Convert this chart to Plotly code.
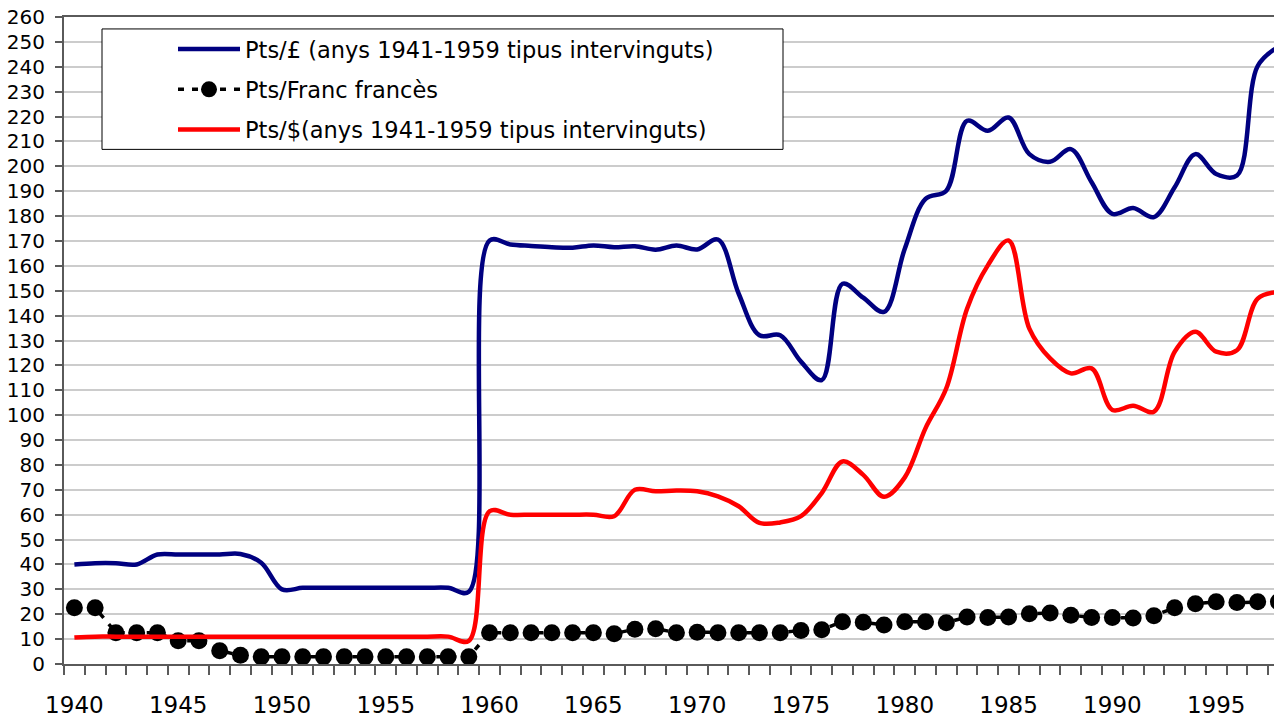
import plotly.graph_objects as go

years = list(range(1940, 1999))

pts_lliura = [40.0, 40.5, 40.5, 40.0, 44.0, 44.0, 44.0, 44.0, 44.2, 40.7,
              30.0, 30.6, 30.6, 30.6, 30.6, 30.6, 30.6, 30.6, 30.6, 29.0,
              170.2, 168.6, 168.0, 167.5, 167.3, 168.2, 167.5, 167.9, 166.5, 168.2,
              166.6, 170.6, 148.8, 132.1, 132.1, 121.5, 114.1, 152.8, 147.2, 141.5,
              166.9, 186.9, 190.2, 218.3, 214.3, 219.6, 204.9, 201.8, 206.9, 193.6,
              180.9, 183.2, 179.6, 191.6, 204.9, 196.9, 196.3, 240.3, 248.0]

pts_franc = [22.6, 22.6, 12.6, 12.6, 12.6, 9.3, 9.3, 5.3, 3.5, 2.9,
             2.9, 2.9, 2.9, 2.9, 2.9, 2.9, 2.9, 2.9, 2.9, 2.9,
             12.6, 12.6, 12.6, 12.6, 12.6, 12.6, 12.2, 14.0, 14.2, 12.6,
             12.8, 12.6, 12.6, 12.6, 12.6, 13.5, 13.8, 17.0, 16.8, 15.7,
             17.0, 17.0, 16.6, 18.9, 18.7, 18.9, 20.2, 20.5, 19.6, 18.7,
             18.7, 18.5, 19.4, 22.6, 24.2, 25.0, 24.7, 25.0, 25.0]

pts_dolar = [10.6, 11.0, 11.0, 11.0, 11.0, 11.0, 11.0, 11.0, 11.0, 11.0,
             11.0, 11.0, 11.0, 11.0, 11.0, 11.0, 11.0, 11.0, 11.0, 9.3,
             61.4, 60.0, 60.0, 60.0, 60.0, 60.0, 59.4, 70.0, 69.4, 69.7,
             69.4, 67.4, 63.4, 56.7, 56.9, 59.4, 68.7, 81.4, 76.0, 67.2,
             75.0, 94.8, 110.8, 142.8, 160.2, 170.2, 134.8, 122.8, 116.8, 118.8,
             102.1, 103.8, 101.4, 125.5, 133.5, 125.5, 126.1, 146.8, 149.5]

names = ["Pts/£ (anys 1941-1959 tipus intervinguts)",
         "Pts/Franc francès",
         "Pts/$(anys 1941-1959 tipus intervinguts)"]

x_tick_vals = [1940, 1945, 1950, 1955, 1960, 1965, 1970, 1975, 1980, 1985, 1990, 1995]
y_tick_vals = list(range(0, 261, 10))

FONT = "DejaVu Sans"

fig = go.Figure()
fig.add_trace(go.Scatter(
    x=years, y=pts_lliura, name=names[0], mode="lines",
    line=dict(color="#000080", width=4.5, shape="spline", smoothing=1.0),
    legendgroup="a"))
fig.add_trace(go.Scatter(
    x=years, y=pts_franc, name=names[1], mode="lines+markers",
    line=dict(color="#000000", width=3.5, dash="6px,8px"),
    marker=dict(color="#000000", size=17, symbol="circle"),
    legendgroup="b"))
fig.add_trace(go.Scatter(
    x=years, y=pts_dolar, name=names[2], mode="lines",
    line=dict(color="#ff0000", width=4.5, shape="spline", smoothing=1.0),
    legendgroup="c"))

W, H = 1274, 718
L, R, T, B = 64, 0, 17, 51
plot_w = W - L - R
plot_h = H - T - B
px_per_year = 20.76
x_end = 1939.5 + plot_w / px_per_year


def px_x(p):
    return (p - L) / plot_w


def px_y(p):
    return 1 - (p - T) / plot_h


# legend frame (box around the native legend entries)
box_l, box_r, box_t, box_b = 102, 783, 29, 150
fig.add_shape(type="rect", xref="paper", yref="paper",
              x0=px_x(box_l), x1=px_x(box_r), y0=px_y(box_b), y1=px_y(box_t),
              line=dict(color="black", width=1), fillcolor="white", layer="above")

fig.update_layout(
    width=W, height=H,
    margin=dict(l=L, r=R, t=T, b=B, pad=0),
    paper_bgcolor="white", plot_bgcolor="white",
    font=dict(family=FONT, color="black"),
    showlegend=True,
    legend=dict(
        x=px_x(box_l), y=px_y(28),
        xanchor="left", yanchor="top",
        bgcolor="rgba(255,255,255,0)", borderwidth=0,
        font=dict(family=FONT, size=22.5, color="black"),
        itemwidth=62, tracegroupgap=8, traceorder="grouped",
        indentation=71,
    ),
    xaxis=dict(
        range=[1939.5, x_end], tickmode="array", tickvals=x_tick_vals,
        ticktext=[str(v) for v in x_tick_vals],
        ticks="", showgrid=False, zeroline=False,
        showline=True, linecolor="#5a5a5a", linewidth=2, mirror=True,
        tickfont=dict(family=FONT, size=23, color="black"),
        minor=dict(ticks="outside", tick0=1939.5, dtick=1, ticklen=9,
                   tickcolor="#5a5a5a", tickwidth=1.5, showgrid=False),
        ticklabelstandoff=19,
    ),
    yaxis=dict(
        range=[0, 260], tickmode="array", tickvals=y_tick_vals,
        ticktext=[str(v) for v in y_tick_vals],
        ticks="outside", ticklen=7, tickcolor="#5a5a5a", tickwidth=1.5,
        showgrid=True, gridcolor="#cccccc", gridwidth=1.5, zeroline=False,
        showline=True, linecolor="#5a5a5a", linewidth=2,
        tickfont=dict(family=FONT, size=20, color="black"),
        ticklabelstandoff=6,
    ),
)

fig.write_html("out.html", config={"displayModeBar": False},
               post_script="document.body.style.margin='0';document.body.style.overflow='hidden';")
